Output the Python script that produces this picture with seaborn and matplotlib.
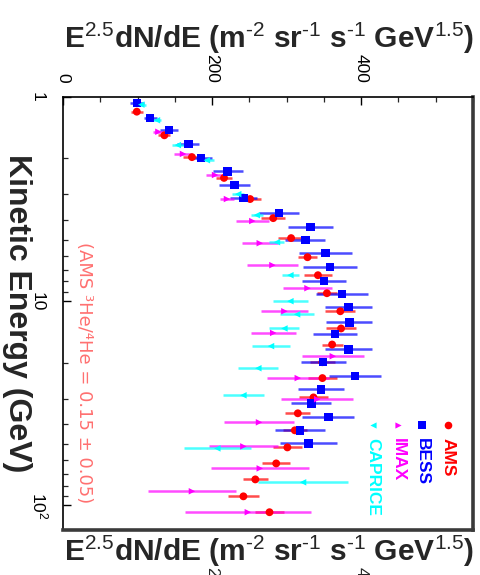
import matplotlib
matplotlib.use("Agg")
import matplotlib.pyplot as plt
import matplotlib.transforms as mtransforms
from matplotlib.ticker import FixedLocator, MultipleLocator, LogLocator, NullFormatter
import pandas as pd
import seaborn as sns

# Helium spectrum: kinetic energy (GeV), E^2.5 dN/dE flux and its uncertainty
ams_e = [1.18, 1.54, 1.97, 2.49, 3.16, 3.92, 4.91, 6.09, 7.46, 9.14, 11.2, 13.6,
         16.3, 19.9, 23.8, 29.6, 35.4, 42.9, 52.0, 62.3, 74.6, 90.3, 108]
ams_f = [99, 136, 173, 216, 251, 282, 306, 328, 342, 354, 372, 373,
         361, 348, 348, 336, 315, 311, 301, 286, 258, 242, 277]
ams_err = [8, 8, 12, 11, 15, 16, 17, 13, 19, 13, 20, 20,
           14, 17, 20, 19, 17, 16, 19, 19, 17, 21, 19]

bess_e = [1.07, 1.27, 1.45, 1.70, 1.99, 2.31, 2.70, 3.13, 3.70, 4.34, 5.02, 5.82, 6.81,
          7.98, 9.24, 10.7, 12.7, 14.5, 17.2, 19.9, 23.3, 27.0, 31.6, 37.0, 42.9, 49.7]
bess_f = [99, 117, 142, 168, 185, 221, 230, 242, 290, 332, 325, 352, 358,
          350, 374, 383, 384, 365, 383, 349, 392, 346, 333, 356, 318, 329]
bess_err = [9, 9, 12, 15, 15, 20, 21, 18, 27, 30, 27, 36, 36,
            30, 35, 31, 31, 30, 32, 30, 35, 31, 27, 35, 34, 38]

imax_e = [1.48, 1.90, 2.41, 3.16, 4.05, 5.20, 6.66, 8.64, 11.2, 14.3, 18.6, 23.8,
          30.2, 39.2, 51.4, 65.9, 85.3, 108]
imax_f = [128, 161, 204, 220, 254, 264, 281, 328, 297, 282, 362, 315,
          341, 263, 242, 264, 173, 248]
imax_err = [7, 12, 12, 10, 22, 24, 34, 33, 31, 30, 42, 42,
            48, 47, 46, 66, 59, 85]

caprice_e = [1.09, 1.30, 1.72, 2.04, 2.99, 3.79, 5.14, 7.46, 10.0, 11.6, 13.6, 16.6,
             21.3, 28.9, 52.6, 77.1]
caprice_f = [105, 126, 154, 193, 235, 260, 287, 305, 305, 314, 297, 279,
             262, 242, 207, 322]
caprice_err = [6, 6, 8, 10, 8, 8, 10, 11, 23, 23, 20, 25,
               27, 27, 45, 60]

experiments = ["AMS", "BESS", "IMAX", "CAPRICE"]
colors = {"AMS": "#ff0000", "BESS": "#0000ff", "IMAX": "#ff00ff", "CAPRICE": "#00ffff"}
markers = {"AMS": "o", "BESS": "s", "IMAX": ">", "CAPRICE": "<"}
sizes = {"AMS": 32, "BESS": 38, "IMAX": 22, "CAPRICE": 22}

x_ticks = [0, 200, 400]
x_ticklabels = ["0", "200", "400"]
y_ticks = [1, 10, 100]
y_ticklabels = ["1", "10", "$10^{2}$"]

flux_label = (r"E$^{2.5}$dN/dE (m$^{\text{-}2}$ sr$^{\text{-}1}$ s$^{\text{-}1}$ "
              r"GeV$^{1.5}$)")
energy_label = "Kinetic Energy (GeV)"
note = "(AMS \u00b3He/\u2074He = 0.15 \u00b1 0.05)"

series = {
    "AMS": (ams_e, ams_f, ams_err),
    "BESS": (bess_e, bess_f, bess_err),
    "IMAX": (imax_e, imax_f, imax_err),
    "CAPRICE": (caprice_e, caprice_f, caprice_err),
}
rows = []
for name, (ev, fv, errv) in series.items():
    for e, f, r in zip(ev, fv, errv):
        rows.append({"experiment": name, "energy": e, "flux": f, "err": r})
df = pd.DataFrame(rows)

sns.set_theme(style="white")
plt.rcParams["font.family"] = ["Liberation Sans", "DejaVu Sans"]
plt.rcParams["mathtext.fontset"] = "custom"
plt.rcParams["mathtext.rm"] = "Liberation Sans"
plt.rcParams["mathtext.it"] = "Liberation Sans:italic"
plt.rcParams["mathtext.bf"] = "Liberation Sans:bold"

fig = plt.figure(figsize=(4.81, 5.75), dpi=100)
ax = fig.add_axes([63 / 481, 1 - 530 / 575, 410 / 481, 433 / 575])

# horizontal error bars (flux uncertainty)
for name in experiments:
    sub = df[df["experiment"] == name]
    ax.errorbar(sub["flux"], sub["energy"], xerr=sub["err"], fmt="none",
                ecolor=colors[name], elinewidth=1.8, alpha=0.7, capsize=0, zorder=2)

sns.scatterplot(data=df, x="flux", y="energy", hue="experiment", style="experiment",
                size="experiment", hue_order=experiments, style_order=experiments,
                size_order=experiments, palette=colors, markers=markers, sizes=sizes,
                linewidth=0, legend=False, ax=ax, zorder=3)

ax.set_yscale("log")
ax.set_ylim(132, 1)
ax.set_xlim(0, 550)

# flux axis on top, labels turned with the plot
ax.xaxis.tick_top()
ax.xaxis.set_major_locator(FixedLocator(x_ticks))
ax.xaxis.set_minor_locator(MultipleLocator(50))
ax.set_xticks(x_ticks, labels=x_ticklabels)
ax.tick_params(axis="x", which="major", direction="in", length=6, width=1.0,
               top=True, bottom=False, labeltop=True, labelbottom=False,
               pad=10.5, labelsize=12.5, colors="black")
ax.tick_params(axis="x", which="minor", direction="in", length=3.5, width=0.9,
               top=True, bottom=False)
for lbl in ax.get_xticklabels():
    lbl.set_rotation(-90)

ax.set_yticks(y_ticks, labels=y_ticklabels)
ax.yaxis.set_minor_locator(LogLocator(base=10, subs=range(2, 10)))
ax.yaxis.set_minor_formatter(NullFormatter())
ax.tick_params(axis="y", which="major", direction="in", length=6, width=1.0,
               left=True, right=False, pad=22, labelsize=12.5, colors="black")
ax.tick_params(axis="y", which="minor", direction="in", length=3.5, width=0.9,
               left=True, right=False)
for lbl in ax.get_yticklabels():
    lbl.set(rotation=-90, rotation_mode="anchor", ha="center", va="baseline")

ax.xaxis.set_label_position("top")
ax.set_xlabel(flux_label, fontsize=21.5, fontweight="bold", va="center")
ax.xaxis.set_label_coords((269 - 63) / 410, (530 - 38) / 433)

ax.set_ylabel(energy_label, fontsize=23, fontweight="bold", rotation=-90,
              va="center", ha="center")
ax.yaxis.set_label_coords((17 - 63) / 410, 0.5)

# repeated flux label below the frame, with the lower tick labels running off the edge
fig.text(269 / 481, 1 - 551 / 575, flux_label,
         fontsize=21.5, fontweight="bold", ha="center", va="center")
bottom_tf = mtransforms.blended_transform_factory(ax.transData, ax.transAxes)
for v, t in zip(x_ticks[1:], x_ticklabels[1:]):
    ax.text(v, (530 - 567) / 433, t, transform=bottom_tf, rotation=-90, ha="center",
            va="top", fontsize=12.5, clip_on=False)

for side in ["top", "left"]:
    ax.spines[side].set_linewidth(1.2)
    ax.spines[side].set_color("black")
for side in ["right", "bottom"]:
    ax.spines[side].set_linewidth(2.6)
    ax.spines[side].set_color("#3a3a3a")

# legend entries laid out along the turned plot
leg_x = {"AMS": (448 - 63) / 410, "BESS": (422 - 63) / 410,
         "IMAX": (398 - 63) / 410, "CAPRICE": (373 - 63) / 410}
leg_marker_sizes = {"AMS": 30, "BESS": 34, "IMAX": 20, "CAPRICE": 20}
for name in experiments:
    ax.scatter([leg_x[name]], [(530 - 425) / 433], transform=ax.transAxes,
               marker=markers[name], s=leg_marker_sizes[name], color=colors[name],
               linewidths=0, zorder=4, clip_on=False)
    ax.text(leg_x[name], (530 - 438) / 433, name, transform=ax.transAxes, rotation=-90,
            ha="center", va="top", fontsize=12.5, fontweight="bold", color=colors[name])

ax.text((84 - 63) / 410, (530 - 373) / 433, note, transform=ax.transAxes, rotation=-90,
        ha="center", va="center", fontsize=13, color="#ff7070", family="DejaVu Sans")

fig.savefig("out.png", dpi=100)
